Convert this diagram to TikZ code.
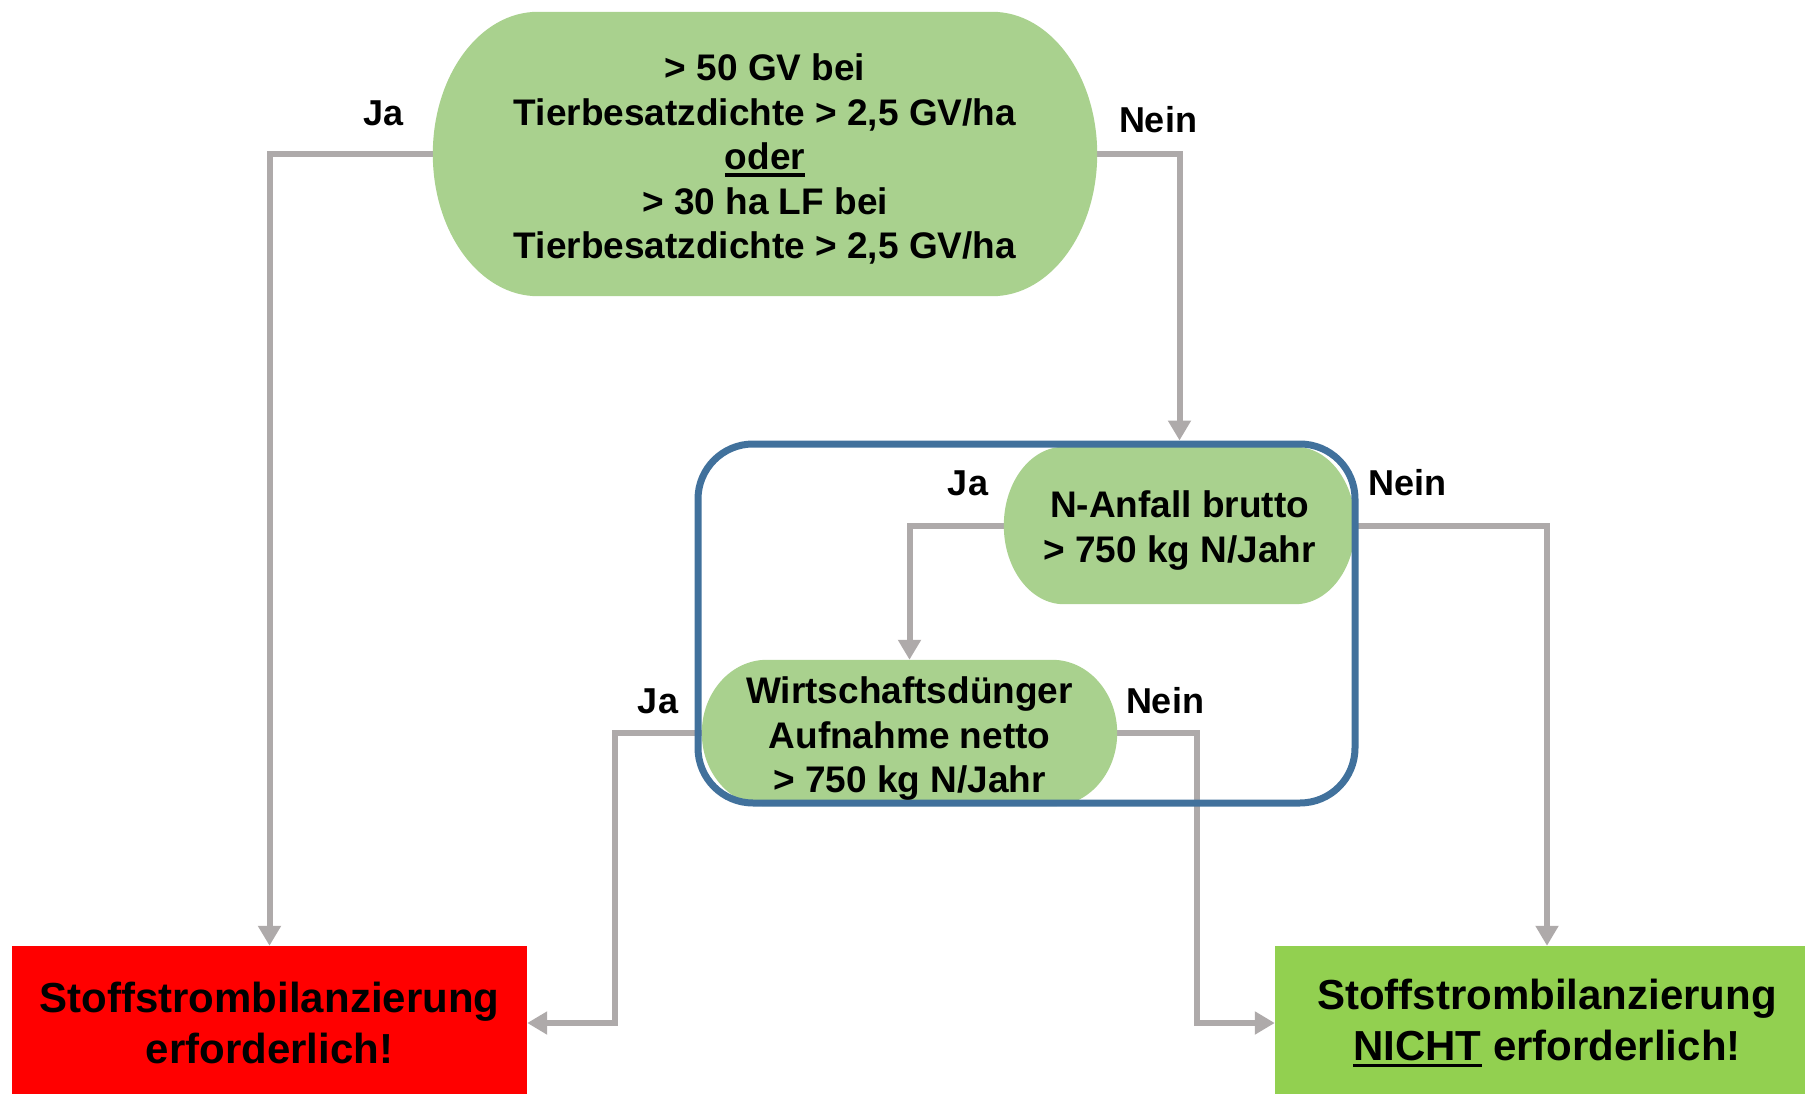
\documentclass[tikz,border=0pt]{standalone}
\usepackage{fontspec}
\setmainfont{Liberation Sans}
\usetikzlibrary{arrows.meta,calc}
\pgfdeclarelayer{bg}
\pgfdeclarelayer{mid}
\pgfsetlayers{bg,mid,main}
\definecolor{lgreen}{HTML}{A9D18E}
\definecolor{dgreen}{HTML}{92D050}
\definecolor{cgray}{HTML}{AEAAAA}
\definecolor{frameblue}{HTML}{41719C}
\newcommand\myul[2][-7pt]{\setbox0\hbox{#2}\rlap{\rule[#1]{\wd0}{3.6pt}}\box0\relax}
\newcommand\termfill[3]{%
  \fill[#3] let \p1=(#1.north west), \p2=(#1.south east), \n1={(\y1-\y2)/2} in
    (\x1+#2,\y1) -- (\x2-#2,\y1)
    arc[start angle=90,end angle=-90,x radius=#2pt,y radius=\n1]
    -- (\x1+#2,\y2)
    arc[start angle=270,end angle=90,x radius=#2pt,y radius=\n1] -- cycle;}
\begin{document}
\begin{tikzpicture}[x=1pt,y=1pt,
  conn/.style={draw=cgray,line width=6pt,-{Triangle[length=20pt,width=22pt]}},
  shapebox/.style={inner sep=0pt},
  txt/.style={inner sep=0pt,align=center,font=\fontsize{37}{44.5}\selectfont\bfseries},
  lbl/.style={inner sep=0pt,font=\fontsize{36}{40}\selectfont\bfseries},
  result/.style={inner sep=0pt,align=center,font=\fontsize{42}{51}\selectfont\bfseries}]
\useasboundingbox (0,0) rectangle (1805,-1094);

% shape outlines (used for anchors)
\node[shapebox,minimum width=664,minimum height=284] (top) at (765,-154) {};
\node[shapebox,minimum width=351,minimum height=157] (nanf) at (1179.5,-525.5) {};
\node[shapebox,minimum width=415,minimum height=146] (wd) at (909.5,-733) {};

% texts
\node[txt] (toptext) at ([yshift=-5pt]top.center)
  {> 50 GV bei\\Tierbesatzdichte > 2,5 GV/ha\\\myul{oder}\\> 30 ha LF bei\\Tierbesatzdichte > 2,5 GV/ha};
\node[txt] (nanftext) at ([yshift=-5pt]nanf.center)
  {N-Anfall brutto\\> 750 kg N/Jahr};
\node[txt] (wdtext) at ([yshift=-6pt]wd.center)
  {Wirtschaftsdünger\\Aufnahme netto\\> 750 kg N/Jahr};
\node[result,fill=red,minimum width=515,minimum height=154] (red) at (269.5,-1023)
  {Stoffstrombilanzierung\\erforderlich!};
\node[result,fill=dgreen,minimum width=544,minimum height=154] (grn) at (1547,-1023)
  {Stoffstrombilanzierung\\\myul[-7pt]{NICHT} erforderlich!};

% labels
\node[lbl] (ja1) at (384,-113) {Ja};
\node[lbl] (nein1) at (1158,-120) {Nein};
\node[lbl] (ja2) at (968,-483) {Ja};
\node[lbl] (nein2) at (1407,-483) {Nein};
\node[lbl] (ja3) at (658,-701) {Ja};
\node[lbl] (nein3) at (1165,-701) {Nein};

\begin{pgfonlayer}{mid}
  \termfill{top}{105}{lgreen}
  \termfill{nanf}{60}{lgreen}
  \termfill{wd}{65}{lgreen}
  \node[draw=frameblue,line width=7pt,rounded corners=55pt,minimum width=657,minimum height=359,inner sep=0pt] (bluebox) at (1026.5,-623.5) {};
\end{pgfonlayer}

\begin{pgfonlayer}{bg}
  \draw[conn] (top.west) -| (red.north);
  \draw[conn] (top.east) -| (nanf.north |- bluebox.north);
  \draw[conn] (nanf.west) -| (wd.north);
  \draw[conn] (nanf.east) -| (grn.north);
  \draw[conn] (wd.west) -- ++(-87,0) |- (red.east);
  \draw[conn] (wd.east) -- ++(80,0) |- (grn.west);
\end{pgfonlayer}
\end{tikzpicture}
\end{document}
